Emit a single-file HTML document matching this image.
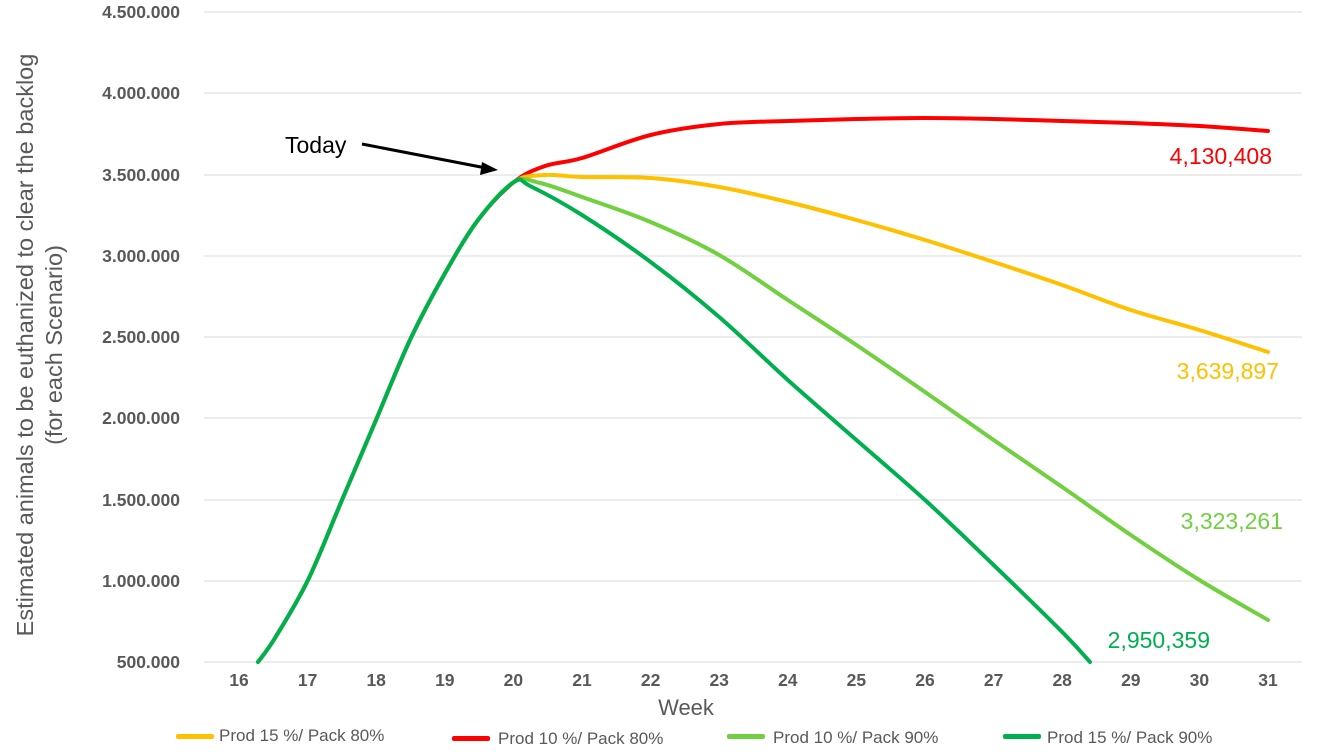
<!DOCTYPE html><html><head><meta charset="utf-8"><style>body{margin:0;background:#fff}svg{display:block}</style></head><body>
<svg id="s" width="1334" height="752" xmlns="http://www.w3.org/2000/svg" font-family="Liberation Sans, sans-serif">
<g stroke="#d9d9d9" stroke-width="1">
<line x1="204" x2="1302" y1="12" y2="12"/><line x1="204" x2="1302" y1="93" y2="93"/><line x1="204" x2="1302" y1="175" y2="175"/><line x1="204" x2="1302" y1="256" y2="256"/><line x1="204" x2="1302" y1="337" y2="337"/><line x1="204" x2="1302" y1="418" y2="418"/><line x1="204" x2="1302" y1="500" y2="500"/><line x1="204" x2="1302" y1="581" y2="581"/><line x1="204" x2="1302" y1="662" y2="662"/>
</g>
<g fill="#595959" font-weight="bold" font-size="17.5" text-anchor="end">
<text x="180" y="18">4.500.000</text><text x="180" y="99">4.000.000</text><text x="180" y="181">3.500.000</text><text x="180" y="262">3.000.000</text><text x="180" y="343">2.500.000</text><text x="180" y="424">2.000.000</text><text x="180" y="506">1.500.000</text><text x="180" y="587">1.000.000</text><text x="180" y="668">500.000</text>
</g>
<g id="xt" fill="#595959" font-weight="bold" font-size="17.5" text-anchor="middle"></g>
<text x="686" y="715" font-size="22" fill="#595959" text-anchor="middle">Week</text>
<text transform="translate(33,345) rotate(-90)" font-size="23.5" fill="#595959" text-anchor="middle">Estimated animals to be euthanized to clear the backlog</text>
<text transform="translate(62,345) rotate(-90)" font-size="23.5" fill="#595959" text-anchor="middle">(for each Scenario)</text>
<g id="lines" fill="none" stroke-width="4" stroke-linecap="round"></g>
<text x="285" y="153" font-size="23" fill="#000">Today</text>
<line x1="362" y1="144" x2="486" y2="168" stroke="#000" stroke-width="3"/>
<polygon points="498,170 482,162 480,175" fill="#000"/>
<g font-size="23">
<text x="1272" y="164" fill="#ff0000" text-anchor="end">4,130,408</text>
<text x="1279" y="379" fill="#ffc000" text-anchor="end">3,639,897</text>
<text x="1283" y="529" fill="#70d040" text-anchor="end">3,323,261</text>
<text x="1210" y="648" fill="#00b050" text-anchor="end">2,950,359</text>
</g>
<g font-size="17" fill="#595959">
<rect x="176" y="734" width="38" height="5" rx="2" fill="#ffc000"/><text x="219" y="741">Prod 15 %/ Pack 80%</text>
<rect x="452" y="736" width="38" height="5" rx="2" fill="#ff0000"/><text x="498" y="744">Prod 10 %/ Pack 80%</text>
<rect x="727" y="734" width="38" height="5" rx="2" fill="#70d040"/><text x="773" y="743">Prod 10 %/ Pack 90%</text>
<rect x="1003" y="734" width="38" height="5" rx="2" fill="#00b050"/><text x="1047" y="743">Prod 15 %/ Pack 90%</text>
</g>
</svg>
<script>
var NS="http://www.w3.org/2000/svg";
var xt=document.getElementById("xt");
for(var w=16;w<=31;w++){var t=document.createElementNS(NS,"text");t.setAttribute("x",239+(w-16)*68.6);t.setAttribute("y",686);t.textContent=w;xt.appendChild(t);}
var rise=[[258,662],[275,638],[308,580],[342,500],[376,420],[410,340],[444,275],[478,220],[514,182]];
function W(w){return 239+(w-16)*68.6;}
var series=[
["#00b050",[[530,186],[W(21),215],[W(22),262],[W(23),317],[W(24),380],[W(25),440],[W(26),500],[W(27),565],[W(28),632],[1090,662]]],
["#70d040",[[540,183],[W(21),197],[W(22),222],[W(23),255],[W(24),300],[W(25),345],[W(26),392],[W(27),440],[W(28),487],[W(29),535],[W(30),580],[W(31),620]]],
["#ffc000",[[545,175],[W(21),177],[W(22),178],[W(23),187],[W(24),202],[W(25),220],[W(26),240],[W(27),262],[W(28),285],[W(29),310],[W(30),330],[W(31),352]]],
["#ff0000",[[545,166],[W(21),158],[W(22),135],[W(23),124],[W(24),121],[W(25),119],[W(26),118],[W(27),119],[W(28),121],[W(29),123],[W(30),126],[W(31),131]]]
];
function path(p){var d="M"+p[0][0]+","+p[0][1];for(var i=0;i<p.length-1;i++){var a=p[i-1]||p[i],b=p[i],c=p[i+1],e=p[i+2]||c;d+=" C"+(b[0]+(c[0]-a[0])/6)+","+(b[1]+(c[1]-a[1])/6)+" "+(c[0]-(e[0]-b[0])/6)+","+(c[1]-(e[1]-b[1])/6)+" "+c[0]+","+c[1];}return d;}
var g=document.getElementById("lines");
series.slice().reverse().forEach(function(s){var p=document.createElementNS(NS,"path");p.setAttribute("d",path(rise.concat(s[1])));p.setAttribute("stroke",s[0]);g.appendChild(p);});
</script>
</body></html>
